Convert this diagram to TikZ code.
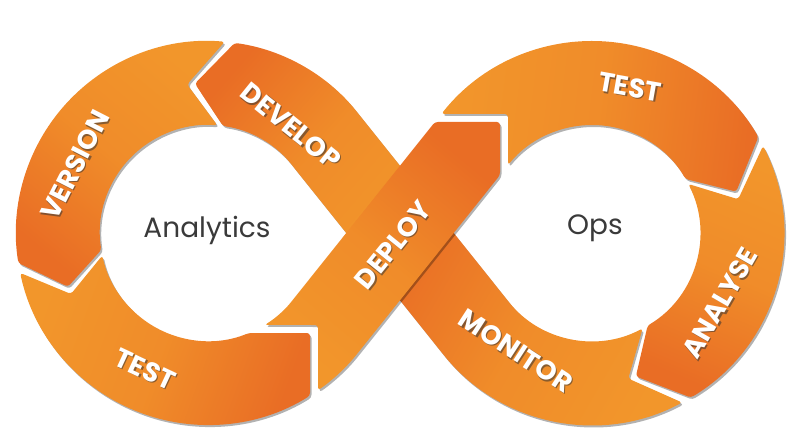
\documentclass[tikz,border=0pt]{standalone}
\usepackage{fontspec}
\usepackage{xcolor}
\usepackage{tikz}
\usetikzlibrary{shadows}
\newfontfamily\segfont{Poppins}
\definecolor{orangelight}{HTML}{F2962B}
\definecolor{orangedark}{HTML}{E96D25}
\definecolor{hubgray}{HTML}{3A3A3A}

\begin{document}
\begin{tikzpicture}[x=1pt,y=1pt,
		piece/.style={rounded corners=3pt, left color=orangelight, right color=orangedark,
			middle color=orangelight!75!orangedark,
			drop shadow={shadow xshift=1.5pt, shadow yshift=-2pt, opacity=0.3, fill=black}},
		seglabel/.style={font=\segfont\bfseries\fontsize{27}{27}\selectfont, text=white, inner sep=0pt},
		seglabel shadow/.style={seglabel, text=black!80, opacity=0.55, xshift=1.3pt, yshift=-1.3pt},
		hub/.style={font=\segfont\fontsize{28}{28}\selectfont, text=hubgray}]
	\useasboundingbox (0,0) rectangle (800,440);
	\coordinate (CL) at (208,207);
	\coordinate (CR) at (592,207);
	% left loop
	\path[piece, shading angle=320] ([shift={(CL)}]85:192) arc[start angle=85, end angle=189, radius=192]
		-- ([shift={(CL)}]201:150) -- ([shift={(CL)}]189:108) arc[start angle=189, end angle=85, radius=108]
		-- ([shift={(CL)}]98:150) -- cycle;
	\path[piece, shading angle=229] (367.2,180.8) -- (432.8,233.2) -- (358,326.8)
		arc[start angle=38.62, end angle=82, radius=192] -- ([shift={(CL)}]95:150)
		-- ([shift={(CL)}]82:108) arc[start angle=82, end angle=38.62, radius=108] -- cycle;
	\path[piece, shading angle=70] ([shift={(CL)}]192:192) arc[start angle=192, end angle=302.09, radius=192]
		-- (310,107) -- (248.8,107) arc[start angle=292.2, end angle=192, radius=108]
		-- ([shift={(CL)}]204:150) -- cycle;
	% right loop
	\path[piece, shading angle=240] ([shift={(CR)}]-62:192) arc[start angle=-62, end angle=-141.38, radius=192]
		-- (367.2,180.8) -- (432.8,233.2) -- (507.6,139.6)
		arc[start angle=-141.38, end angle=-62, radius=108] -- ([shift={(CR)}]-76:150) -- cycle;
	\path[piece, shading angle=83] (441.4,326) arc[start angle=141.7, end angle=30, radius=192]
		-- ([shift={(CR)}]16:150) -- ([shift={(CR)}]30:108) arc[start angle=30, end angle=141.05, radius=108]
		-- (508,326) -- cycle;
	\path[piece, shading angle=337] ([shift={(CR)}]27:192) arc[start angle=27, end angle=-59, radius=192]
		-- ([shift={(CR)}]-73:150) -- ([shift={(CR)}]-59:108) arc[start angle=-59, end angle=27, radius=108]
		-- ([shift={(CR)}]13:150) -- cycle;
	% crossing band on top
	\path[piece, shading angle=140] (318,49.7) arc[start angle=-55.05, end angle=-38.62, radius=192]
		-- (500,264.9) -- (500,318) -- (434.9,318) -- (292.4,139.6)
		arc[start angle=-38.62, end angle=-58.4, radius=108] -- (318,115) -- cycle;
	% labels
	\node[seglabel shadow, rotate=63] (version-s) at (75,275) {VERSION};
	\node[seglabel, rotate=63] (version) at (75,275) {VERSION};
	\node[seglabel shadow, rotate=-39] (develop-s) at (291,314) {DEVELOP};
	\node[seglabel, rotate=-39] (develop) at (291,314) {DEVELOP};
	\node[seglabel shadow, rotate=-25] (testa-s) at (145,71) {TEST};
	\node[seglabel, rotate=-25] (testa) at (145,71) {TEST};
	\node[seglabel shadow, rotate=51] (deploy-s) at (393,195) {DEPLOY};
	\node[seglabel, rotate=51] (deploy) at (393,195) {DEPLOY};
	\node[seglabel shadow, rotate=-10] (testo-s) at (630,353) {TEST};
	\node[seglabel, rotate=-10] (testo) at (630,353) {TEST};
	\node[seglabel shadow, rotate=60] (analyse-s) at (720,137) {ANALYSE};
	\node[seglabel, rotate=60] (analyse) at (720,137) {ANALYSE};
	\node[seglabel shadow, rotate=-33] (monitor-s) at (516,89) {MONITOR};
	\node[seglabel, rotate=-33] (monitor) at (516,89) {MONITOR};
	\node[hub] (analytics) at (207,210) {Analytics};
	\node[hub] (ops) at (595,212) {Ops};
\end{tikzpicture}
\end{document}
